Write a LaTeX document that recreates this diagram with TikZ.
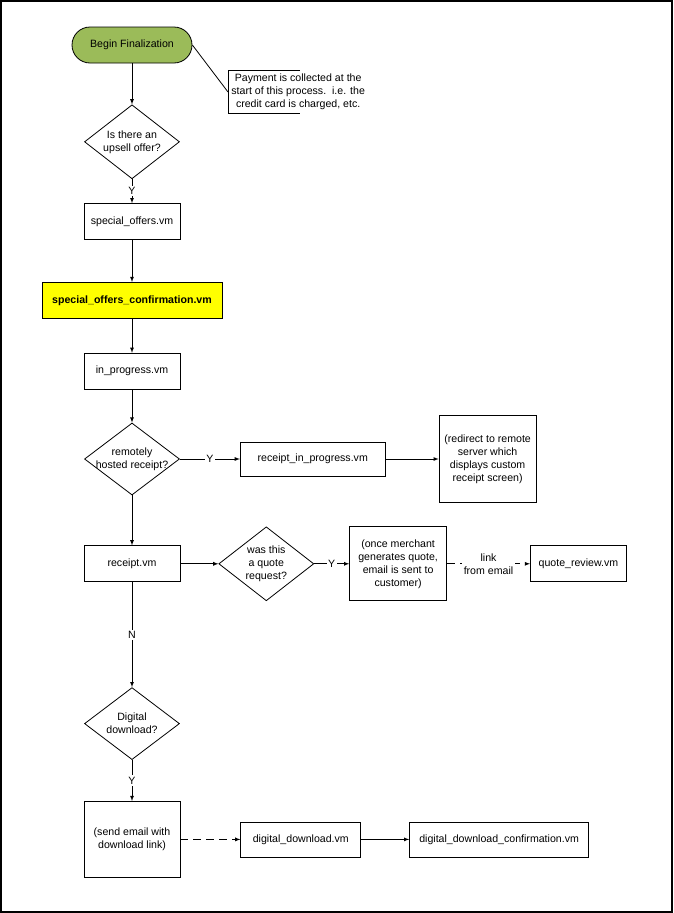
\documentclass[tikz,border=0pt]{standalone}
\usepackage{fontspec}
\setmainfont{Liberation Sans}
\usepackage{xcolor}
\usetikzlibrary{arrows,shapes.geometric,positioning}

\definecolor{termgreen}{HTML}{9BBB59}
\definecolor{vmyellow}{HTML}{FFFF00}

\begin{document}
\begin{tikzpicture}[->,>=latex,x=1pt,y=1pt,line width=0.8pt,
                    font=\fontsize{10.6}{13}\selectfont,
                    decision/.style={diamond, draw=black, fill=white, inner sep=0pt,
                      minimum width=95pt, minimum height=74pt,
                      label={[align=center]center:#1}}]
  \tikzstyle{vmbox}=[rectangle, draw=black, fill=white, align=center, inner sep=2pt,
                     minimum width=96pt, minimum height=36pt]
  \tikzstyle{terminal}=[rectangle, rounded corners=18pt, draw=black, fill=termgreen,
                        minimum width=120pt, minimum height=36pt]
  \tikzstyle{answer}=[fill=white, inner sep=1.5pt]
  \tikzstyle{emaillink}=[dash pattern=on 8pt off 5pt]
  \useasboundingbox (0,0) rectangle (673,-913);
  \draw[-,line width=1.2pt] (1,-1) rectangle (672,-912);

  % main column
  \node[terminal] (begin) at (132,-45) {Begin Finalization};
  \node[decision={Is there an\\upsell offer?}] (upsell) [below=41pt of begin] {};
  \node[vmbox] (offers) [below=24pt of upsell] {special\_offers.vm};
  \node[vmbox, fill=vmyellow, minimum width=180pt, font=\fontsize{10.6}{13}\selectfont\bfseries]
       (confirm) [below=42pt of offers] {special\_offers\_confirmation.vm};
  \node[vmbox] (inprog) [below=34pt of confirm] {in\_progress.vm};
  \node[decision={remotely\\hosted receipt?}, minimum height=72pt] (remote) [below=33pt of inprog] {};
  \node[vmbox] (receipt) [below=50pt of remote] {receipt.vm};
  \node[decision={Digital\\download?}, minimum height=72pt] (digital) [below=105pt of receipt] {};
  \node[vmbox, minimum height=76pt] (sendmail) [below=41pt of digital] {(send email with\\download link)};

  % branches
  \node[vmbox, minimum width=145pt, minimum height=34pt] (rip) [right=60pt of remote] {receipt\_in\_progress.vm};
  \node[vmbox, minimum width=97pt, minimum height=87pt] (redirect) [right=53pt of rip]
       {(redirect to remote\\server which\\displays custom\\receipt screen)};
  \node[decision={was this\\a quote\\request?}] (quote) [right=38pt of receipt] {};
  \node[vmbox, minimum width=97pt, minimum height=74pt] (merchant) [right=35pt of quote]
       {(once merchant\\generates quote,\\email is sent to\\customer)};
  \node[vmbox] (review) [right=83pt of merchant] {quote\_review.vm};
  \node[vmbox, minimum width=120pt, minimum height=35pt] (download) [right=60pt of sendmail] {digital\_download.vm};
  \node[vmbox, minimum width=179pt, minimum height=35pt] (dlconfirm) [right=48pt of download]
       {digital\_download\_confirmation.vm};

  % annotation
  \node[align=center, inner sep=3pt, minimum height=40pt, anchor=west] (note) at (228,-92)
       {Payment is collected at the\\start of this process.\ \ i.e. the\\credit card is charged, etc.};
  \draw[-] ([xshift=72pt]note.north west) -- (note.north west) -- (note.south west)
           -- ([xshift=72pt]note.south west);
  \draw[-] (begin.east) -- (note.west);

  \path (begin) edge (upsell)
        (upsell) edge node[answer] {Y} (offers)
        (offers) edge (confirm)
        (confirm) edge (inprog)
        (inprog) edge (remote)
        (remote) edge node[answer] {Y} (rip)
        (rip) edge (redirect)
        (remote) edge (receipt)
        (receipt) edge (quote)
        (quote) edge node[answer] {Y} (merchant)
        (merchant) edge[emaillink] node[answer, align=center] {link\\from email} (review)
        (receipt) edge node[answer] {N} (digital)
        (digital) edge node[answer] {Y} (sendmail)
        (sendmail) edge[emaillink] (download)
        (download) edge (dlconfirm);
\end{tikzpicture}
\end{document}
